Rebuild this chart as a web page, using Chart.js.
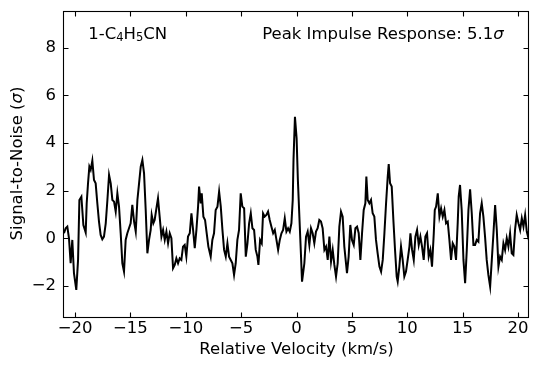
<!DOCTYPE html>
<html><head><meta charset="utf-8">
<script src="https://cdn.jsdelivr.net/npm/chart.js@4.4.1/dist/chart.umd.min.js"></script>
<style>html,body{margin:0;padding:0;background:#fff;}canvas{display:block;}</style>
</head><body>
<canvas id="c" width="539" height="368"></canvas>
<script>
const velocity = [
-21.00,-20.85,-20.70,-20.55,-20.40,-20.25,-20.10,-19.89,-19.73,-19.61,-19.43,-19.25,-19.04,-18.95,-18.83,-18.71,-18.59,-18.44,-18.29,-18.14,-17.99,-17.84,-17.69,-17.54,-17.39,-17.23,-17.08,-16.93,-16.78,-16.63,-16.48,-16.33,-16.18,-16.03,-15.88,-15.73,-15.58,-15.43,-15.28,-15.13,-14.98,-14.83,-14.67,-14.52,-14.37,-14.22,-14.07,-13.92,-13.77,-13.62,-13.47,-13.32,-13.17,-13.08,-12.93,-12.81,-12.63,-12.51,-12.36,-12.20,-12.05,-11.90,-11.75,-11.60,-11.45,-11.30,-11.15,-11.00,-10.85,-10.70,-10.55,-10.40,-10.25,-10.10,-9.95,-9.80,-9.64,-9.49,-9.34,-9.19,-9.04,-8.89,-8.80,-8.65,-8.56,-8.41,-8.26,-8.11,-7.96,-7.75,-7.60,-7.45,-7.30,-7.14,-6.99,-6.84,-6.69,-6.54,-6.39,-6.24,-6.09,-5.94,-5.79,-5.64,-5.49,-5.34,-5.19,-5.04,-4.89,-4.73,-4.58,-4.43,-4.28,-4.13,-3.98,-3.83,-3.68,-3.53,-3.44,-3.29,-3.14,-3.02,-2.87,-2.72,-2.57,-2.42,-2.27,-2.11,-1.96,-1.81,-1.66,-1.51,-1.36,-1.21,-1.06,-0.91,-0.76,-0.61,-0.46,-0.34,
-0.27,-0.14,0.01,0.12,0.26,0.41,0.50,0.71,0.86,1.01,1.16,1.31,1.46,1.61,1.76,1.91,2.06,2.21,2.36,2.52,2.67,2.82,2.97,3.12,3.27,3.42,3.57,3.72,3.87,4.02,4.17,4.32,4.47,4.56,4.71,4.86,5.01,5.17,5.32,5.47,5.62,5.77,5.92,6.07,6.22,6.31,6.43,6.58,6.73,6.88,7.03,7.18,7.33,7.49,7.64,7.79,7.94,8.09,8.24,8.33,8.45,8.60,8.75,8.90,9.05,9.14,9.29,9.44,9.59,9.74,9.89,10.04,10.20,10.29,10.44,10.59,10.74,10.89,11.04,11.19,11.34,11.49,11.64,11.79,11.94,12.09,12.24,12.40,12.49,12.61,12.76,12.91,13.06,13.21,13.36,13.51,13.66,13.81,13.96,14.11,14.26,14.41,14.56,14.65,14.77,14.92,15.08,15.23,15.38,15.53,15.68,15.83,15.98,16.13,16.28,16.43,16.58,16.73,16.88,17.03,17.18,17.33,17.49,17.64,17.79,17.94,18.09,18.24,18.39,18.54,18.69,18.84,18.99,19.14,19.29,19.44,19.59,19.74,19.89,20.05,20.20,20.35,20.50,20.65,20.80,20.95,21.04
];
const snr = [
0.21,0.42,0.49,0.00,-1.05,-0.07,-1.47,-2.17,-0.91,1.61,1.75,0.56,0.24,1.47,2.31,3.01,2.87,3.26,2.45,2.31,1.47,0.70,0.14,-0.04,0.07,0.63,1.61,2.66,2.31,1.61,1.54,1.12,1.89,1.33,0.21,-1.05,-1.40,-0.07,0.21,0.42,0.63,1.40,0.70,0.28,1.61,2.31,3.01,3.29,2.73,1.19,-0.63,-0.07,0.35,0.98,0.63,0.77,1.33,1.68,0.91,0.07,0.35,-0.07,0.28,-0.21,0.21,0.00,-1.26,-1.12,-0.84,-1.05,-0.84,-0.91,-0.35,-0.28,-0.77,0.07,0.21,1.05,0.35,-0.42,0.35,1.33,2.17,1.47,1.89,0.91,0.77,0.21,-0.35,-0.77,-0.07,0.21,1.19,1.33,1.96,1.33,0.35,-0.49,-0.77,-0.21,-0.77,-0.91,-1.05,-1.54,-1.05,-0.07,0.35,1.89,1.33,1.26,-0.77,-0.21,0.63,1.05,0.42,0.35,-0.49,-0.77,-1.12,-0.07,-0.21,1.05,0.91,0.98,1.12,0.77,0.49,0.21,0.35,-0.07,-0.49,-0.07,0.21,0.35,0.84,0.28,0.42,0.28,0.63,1.61,
3.30,5.10,4.20,2.50,0.91,-0.77,-1.82,-1.05,0.07,0.28,-0.28,0.42,0.21,-0.21,0.28,0.42,0.77,0.70,0.42,-0.49,-0.35,-0.91,0.07,-0.98,-0.49,-1.12,-1.61,-1.05,0.49,1.12,0.91,-0.35,-1.05,-1.47,-0.77,0.56,-0.07,-0.28,0.42,0.49,0.21,-0.91,0.21,1.19,1.47,2.59,1.61,1.47,1.61,1.05,0.91,-0.07,-0.63,-1.19,-1.40,-0.91,0.21,1.47,2.59,3.12,2.31,2.17,0.77,-0.49,-1.61,-1.82,-1.19,-0.35,-0.91,-1.61,-1.40,-0.91,-0.35,0.21,-0.49,-0.91,0.07,0.35,-0.28,0.07,-0.35,-0.91,0.07,0.21,-0.77,-0.49,-1.19,0.21,1.19,1.33,1.89,0.91,1.26,0.91,1.19,0.63,0.70,-0.07,-0.91,-0.21,-0.35,-0.91,0.63,1.75,2.24,1.19,-0.91,-1.89,-0.49,1.19,2.06,1.05,-0.28,-0.28,-0.07,-0.14,1.05,1.47,0.91,0.07,-0.91,-1.54,-2.03,-0.91,0.21,1.40,0.35,-1.19,-0.77,-0.91,-0.21,-0.49,0.00,-0.35,0.21,-0.63,-0.70,0.35,0.98,0.63,0.35,0.84,0.49,0.98,0.28,0.00,0.10
];
const xTicks = [-20,-15,-10,-5,0,5,10,15,20];
const yTicks = [-2,0,2,4,6,8];
const xLimits = [-21, 21];
const yLimits = [-3.35, 9.55];
const xTitle = 'Relative Velocity (km/s)';
const yTitleParts = [['Signal-to-Noise (', false], ['σ', 'italic'], [')', false]];
const moleculeParts = [['1-C', false], ['4', 'sub'], ['H', false], ['5', 'sub'], ['CN', false]];
const peakParts = [['Peak Impulse Response: 5.1', false], ['σ', 'italic']];

const FONT = '"DejaVu Sans", sans-serif';
const FS = 16.5;
Chart.defaults.color = '#000';
Chart.defaults.font.family = FONT;
Chart.defaults.font.size = FS;

const fmt = v => (v < 0 ? '\u2212' + Math.abs(v) : String(v));

function makePieces(ctx, parts) {
  return parts.map(([t, f]) => {
    let font, dy = 0;
    if (f === 'sub') { font = `11.5px ${FONT}`; dy = 2; }
    else if (f === 'italic') { font = `italic ${FS}px ${FONT}`; }
    else { font = `${FS}px ${FONT}`; }
    ctx.font = font;
    return {t, font, dy, w: ctx.measureText(t).width};
  });
}
function drawPieces(ctx, pieces, x0, y0, align, baseline) {
  const total = pieces.reduce((s, p) => s + p.w, 0);
  let cx = align === 'right' ? x0 - total : (align === 'center' ? x0 - total / 2 : x0);
  ctx.textAlign = 'left';
  ctx.textBaseline = baseline;
  ctx.fillStyle = '#000';
  pieces.forEach(p => { ctx.font = p.font; ctx.fillText(p.t, cx, y0 + p.dy); cx += p.w; });
}

const framePlugin = {
  id: 'frame',
  afterDraw(chart) {
    const {ctx, chartArea: a, scales: {x, y}} = chart;
    ctx.save();
    ctx.strokeStyle = '#000';
    ctx.lineWidth = 1.1;
    const L = Math.round(a.left) - 0.5, R = Math.round(a.right) - 0.5;
    const T = Math.round(a.top) + 0.5, B = Math.round(a.bottom) - 0.5;
    ctx.strokeRect(L, T, R - L, B - T);
    const tl = 5;
    ctx.beginPath();
    xTicks.forEach(v => {
      const px = Math.round(x.getPixelForValue(v)) + 0.5;
      ctx.moveTo(px, B); ctx.lineTo(px, B - tl);
      ctx.moveTo(px, T); ctx.lineTo(px, T + tl);
    });
    yTicks.forEach(v => {
      const py = Math.round(y.getPixelForValue(v)) + 0.5;
      ctx.moveTo(L, py); ctx.lineTo(L + tl, py);
      ctx.moveTo(R, py); ctx.lineTo(R - tl, py);
    });
    ctx.stroke();

    const w = a.right - a.left;
    drawPieces(ctx, makePieces(ctx, moleculeParts), a.left + 0.05 * w + 1, 39, 'left', 'alphabetic');
    drawPieces(ctx, makePieces(ctx, peakParts), a.left + 0.95 * w - 2, 39, 'right', 'alphabetic');

    ctx.save();
    ctx.translate(18, (a.top + a.bottom) / 2 - 1);
    ctx.rotate(-Math.PI / 2);
    drawPieces(ctx, makePieces(ctx, yTitleParts), 0, 0, 'center', 'middle');
    ctx.restore();
    ctx.restore();
  }
};

new Chart(document.getElementById('c'), {
  type: 'line',
  data: {
    datasets: [{
      data: velocity.map((v, i) => ({x: v, y: snr[i]})),
      borderColor: '#000',
      borderWidth: 2,
      pointRadius: 0,
      tension: 0,
      fill: false
    }]
  },
  options: {
    responsive: false,
    animation: false,
    devicePixelRatio: 1,
    layout: {padding: {left: 0, right: 10, top: 11, bottom: 0}},
    plugins: {legend: {display: false}, tooltip: {enabled: false}},
    scales: {
      x: {
        type: 'linear',
        min: xLimits[0], max: xLimits[1],
        afterFit: s => { s.height = 50; s.paddingLeft = 0; s.paddingRight = 0; },
        afterBuildTicks: s => { s.ticks = xTicks.map(v => ({value: v})); },
        grid: {display: false, drawTicks: false},
        border: {display: false},
        ticks: {padding: 1, maxRotation: 0, autoSkip: false, callback: v => fmt(v), font: {size: FS}},
        title: {display: true, text: xTitle, font: {size: FS}, padding: {top: 0, bottom: 8}}
      },
      y: {
        type: 'linear',
        min: yLimits[0], max: yLimits[1],
        afterFit: s => { s.width = 64; s.paddingTop = 0; s.paddingBottom = 0; },
        afterBuildTicks: s => { s.ticks = yTicks.map(v => ({value: v})); },
        grid: {display: false, drawTicks: false},
        border: {display: false},
        ticks: {padding: 8, autoSkip: false, callback: v => fmt(v), font: {size: FS}},
        title: {display: false}
      }
    }
  },
  plugins: [framePlugin]
});
</script>
</body></html>
